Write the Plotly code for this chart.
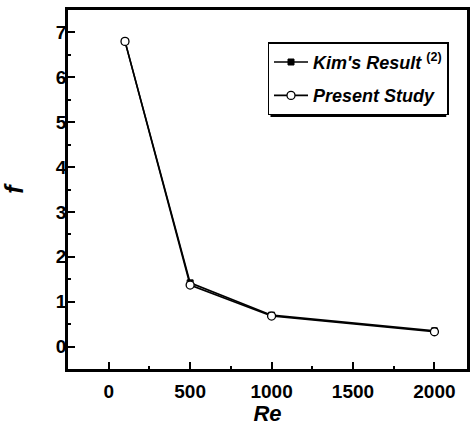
import plotly.graph_objects as go

re_vals = [100, 500, 1000, 2000]
kim_f = [6.8, 1.42, 0.70, 0.35]
present_f = [6.8, 1.37, 0.68, 0.33]

x_ticks = [0, 500, 1000, 1500, 2000]
y_ticks = [0, 1, 2, 3, 4, 5, 6, 7]

FONT = "Liberation Sans, Arial, sans-serif"

fig = go.Figure()
fig.add_trace(go.Scatter(
    x=re_vals, y=kim_f, mode="lines+markers",
    name="<b><i>Kim's Result</i></b> <sup><b>(2)</b></sup>",
    legendgroup="a",
    line=dict(color="black", width=1.6),
    marker=dict(symbol="square", size=6, color="black", line=dict(color="black", width=1)),
))
fig.add_trace(go.Scatter(
    x=re_vals, y=present_f, mode="lines+markers",
    name="<b><i>Present Study</i></b>",
    legendgroup="b",
    line=dict(color="black", width=1.6),
    marker=dict(symbol="circle", size=8, color="white", line=dict(color="black", width=1.3)),
))

axis_common = dict(
    showline=True, linecolor="black", linewidth=2.5, mirror=True,
    ticks="inside", ticklen=7, tickwidth=1.5, tickcolor="black",
    showgrid=False, zeroline=False,
    tickfont=dict(family=FONT, size=19, color="black"),
)

fig.update_xaxes(
    range=[-250, 2200], tickvals=x_ticks,
    ticktext=[f"<b>{v}</b>" for v in x_ticks],
    minor=dict(ticks="inside", dtick=250, tick0=0, ticklen=3, tickcolor="black"),
    ticklabelstandoff=3,
    title=dict(text="<b><i>Re</i></b>", font=dict(family=FONT, size=22, color="black"), standoff=2),
    **axis_common,
)
fig.update_yaxes(
    range=[-0.5, 7.5], tickvals=y_ticks,
    ticktext=[f"<b>{v}</b>" for v in y_ticks],
    minor=dict(ticks="inside", dtick=0.5, tick0=0, ticklen=3, tickcolor="black"),
    ticklabelstandoff=-5,
    title=dict(text="<b><i>f</i></b>", font=dict(family=FONT, size=25, color="black"), standoff=26),
    **axis_common,
)

fig.update_layout(
    width=476, height=426,
    margin=dict(l=68, r=6, t=10, b=57),
    plot_bgcolor="white", paper_bgcolor="white",
    legend=dict(
        x=0.5, y=0.91, xanchor="left", yanchor="top",
        bgcolor="white", bordercolor="black", borderwidth=1.5,
        font=dict(family=FONT, size=18, color="black"),
        itemwidth=34, tracegroupgap=7,
    ),
)
# drop shadow behind legend
fig.add_shape(type="rect", xref="paper", yref="paper",
              x0=0.5075, x1=0.948, y0=0.702, y1=0.8997,
              fillcolor="black", line=dict(width=0), layer="below")

fig.write_html("out.html")
